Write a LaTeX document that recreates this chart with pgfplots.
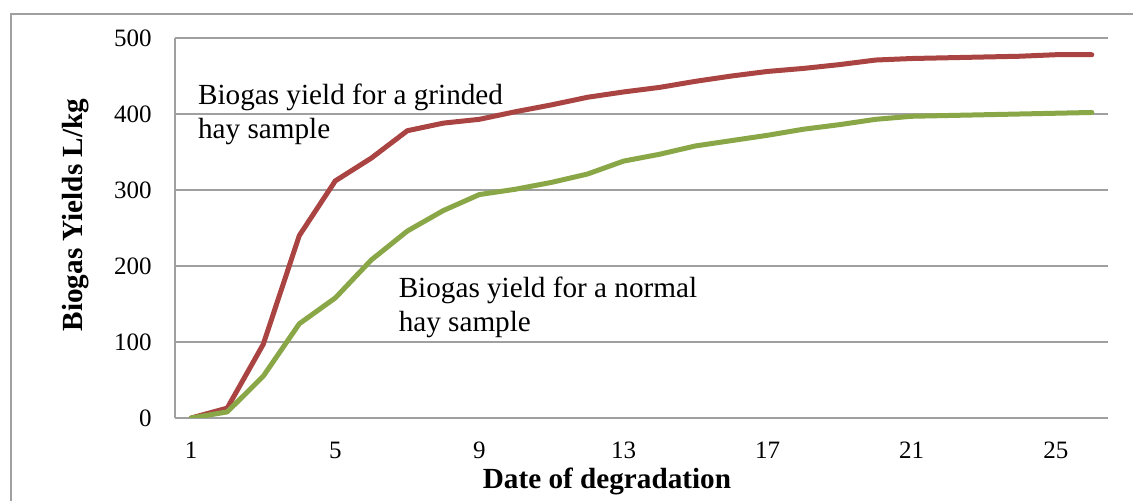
\documentclass[border=0pt]{standalone}
\usepackage{pgfplots}
\pgfplotsset{compat=1.18}
\usepackage{fontspec}
\setmainfont{Liberation Serif}
\definecolor{grinded}{RGB}{169,68,66}
\definecolor{normal}{RGB}{138,167,72}
\definecolor{gridgray}{RGB}{160,160,160}
\begin{document}
\begin{tikzpicture}[x=1pt,y=1pt]
\useasboundingbox (0,0) rectangle (566.5,250.5);
\draw[gridgray, line width=0.75pt] (5.5,-2) -- (5.5,243.5) -- (570,243.5);
\begin{axis}[at={(87.5pt,41.5pt)}, anchor=south west, scale only axis,
  width=466.5pt, height=190pt,
  xmin=0.55, xmax=26.45, ymin=0, ymax=500,
  xtick={1,5,...,25}, ytick={0,100,...,500},
  axis x line=bottom, axis y line=left,
  axis line style={draw=gridgray, line width=0.75pt, -},
  ymajorgrids, grid style={draw=gridgray, line width=0.75pt},
  tick style={draw=none}, major tick length=0pt,
  tick label style={font=\fontsize{12.5}{15}\selectfont},
  /pgf/number format/assume math mode=true,
  yticklabel style={anchor=east, inner sep=0pt},
  xticklabel style={anchor=north, inner sep=0pt},
  yticklabel shift=11.5pt, xticklabel shift=11.8pt,
  xlabel={Date of degradation}, ylabel={Biogas Yields L/kg},
  label style={font=\fontsize{14.6}{17}\selectfont\bfseries},
  xlabel style={at={(axis description cs:0.463,-0.168)}, anchor=center, inner sep=0pt},
  ylabel style={at={(axis description cs:-0.107,0.534)}, anchor=center, inner sep=0pt},
  every axis plot/.append style={line width=2.5pt, line join=round, line cap=round, mark=none},
]
\addplot[grinded] coordinates {
(1,0) (2,13) (3,97) (4,240) (5,312) (6,342) (7,378) (8,388) (9,393) (10,403)
(11,412) (12,422) (13,429) (14,435) (15,443) (16,450) (17,456) (18,460) (19,465) (20,471)
(21,473) (22,474) (23,475) (24,476) (25,478) (26,478)};
\addplot[normal] coordinates {
(1,0) (2,8) (3,55) (4,124) (5,158) (6,208) (7,246) (8,273) (9,294) (10,301)
(11,310) (12,321) (13,338) (14,347) (15,358) (16,365) (17,372) (18,380) (19,386) (20,393)
(21,397) (22,398) (23,399) (24,400) (25,401) (26,402)};
\node[anchor=north west, inner sep=0pt, align=left, font=\fontsize{14.6}{17}\selectfont]
  at (axis cs:1.18,439.5) {Biogas yield for a grinded\\hay sample};
\node[anchor=north west, inner sep=0pt, align=left, font=\fontsize{14.6}{17}\selectfont]
  at (axis cs:6.75,185.5) {Biogas yield for a normal\\hay sample};
\end{axis}
\end{tikzpicture}
\end{document}
